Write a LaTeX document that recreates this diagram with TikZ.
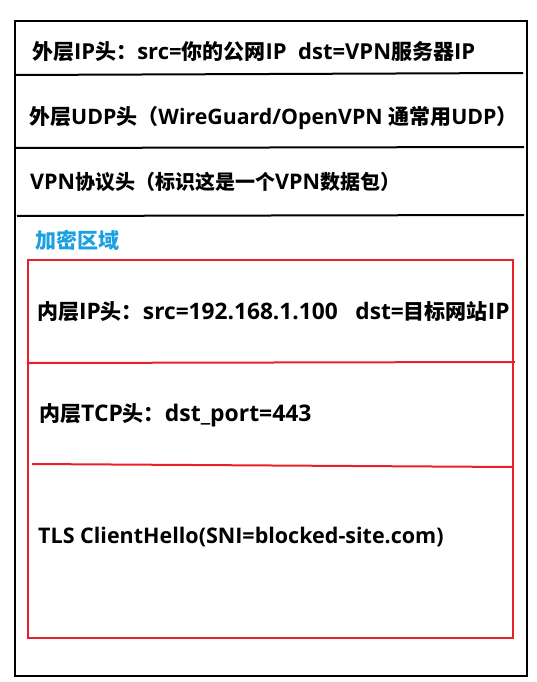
\documentclass[tikz,border=0pt]{standalone}
\usepackage{fontspec}
\setmainfont{Open Sans}
\newfontfamily\cjk{Noto Sans CJK SC}
\newcommand\zhsize{21}
\newcommand\zh[1]{{\cjk\fontsize{\zhsize}{26}\selectfont #1}}
\definecolor{boxred}{HTML}{E8202A}
\definecolor{zoneblue}{HTML}{1BA1E2}
\begin{document}
\begin{tikzpicture}[x=1pt,y=-1pt,
  lbl/.style={anchor=west,inner sep=0pt,font=\fontsize{#1}{26}\selectfont\bfseries},
  lbl/.default=22,
  blackline/.style={draw=black,line width=2pt},
  redline/.style={draw=boxred,line width=2pt}]
\useasboundingbox (0,0) rectangle (537,682);
% outer frame
\draw[line width=2.6pt] (15,21) rectangle (527,676);
\draw[blackline] (15,75) -- (523,73);
\draw[blackline] (15,148) -- (524,147);
\draw[blackline] (17,216) -- (524,215);
% encrypted zone
\draw[redline] (28,260) rectangle (513,638);
\draw[redline] (29,363) -- (515,362);
\draw[redline] (32,464) -- (513,467);
% texts
\node[lbl] (outerip) at (32,52) {\zh{外层}IP\zh{头：}src=\zh{你的公网}IP\ \ dst=VPN\zh{服务器}IP};
\node[lbl=21.3] (outerudp) at (29,118) {\zh{外层}UDP\zh{头（}WireGuard/OpenVPN \zh{通常用}UDP\zh{）}};
\node[lbl=21.5] (vpnhdr) at (30,182) {\renewcommand\zhsize{20}VPN\zh{协议头（标识这是一个}VPN\zh{数据包）}};
\node[lbl,text=zoneblue] (zone) at (35,240) {\zh{加密区域}};
\node[lbl=22.7] (innerip) at (37,312) {\zh{内层}IP\zh{头：}src=192.168.1.100\ \ \ dst=\zh{目标网站}IP};
\node[lbl=22.9] (innertcp) at (39,415) {\zh{内层}TCP\zh{头：}dst\_port=443};
\node[lbl=21.5] (tls) at (38,537) {TLS ClientHello(SNI=blocked-site.com)};
\end{tikzpicture}
\end{document}
